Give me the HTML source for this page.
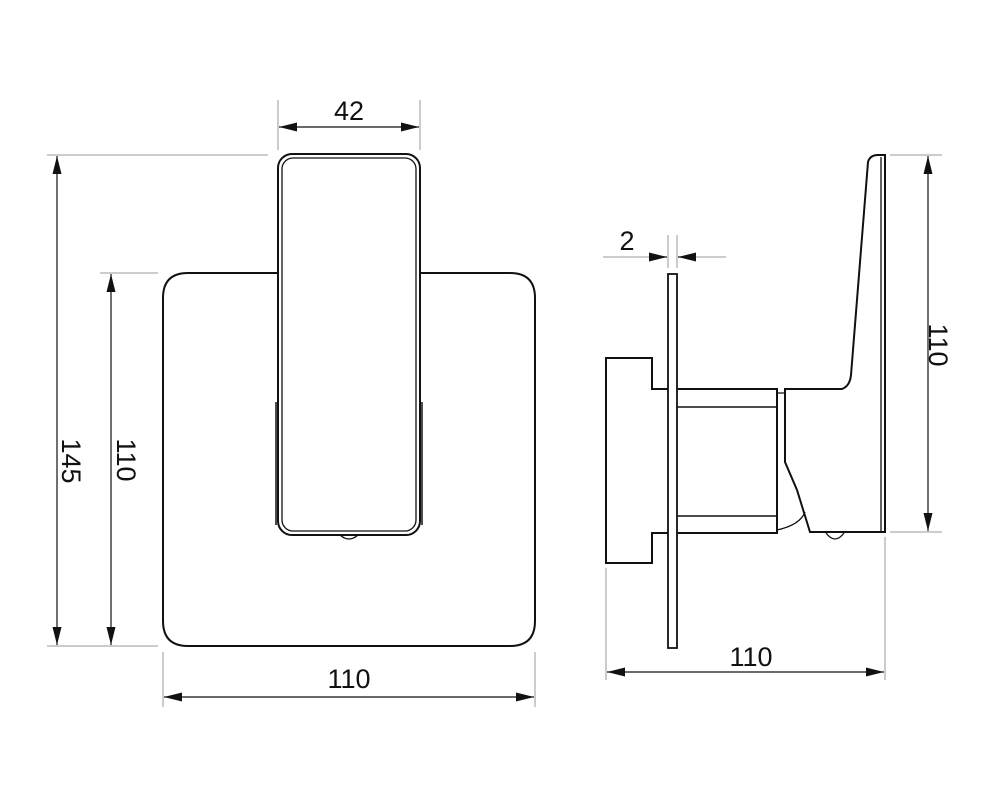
<!DOCTYPE html>
<html><head><style>body{margin:0;background:#fff}svg{display:block}</style></head><body>
<svg width="1000" height="810" viewBox="0 0 1000 810" xmlns="http://www.w3.org/2000/svg" font-family="Liberation Sans, sans-serif" font-size="27" fill="none">
<defs><marker id="a" viewBox="0 0 10 10" refX="10" refY="5" markerWidth="18" markerHeight="9" markerUnits="userSpaceOnUse" preserveAspectRatio="none" orient="auto-start-reverse"><path d="M0,0L10,5L0,10z" fill="#111"/></marker></defs>
<g stroke="#999" stroke-width="1">
<line x1="278" y1="100" x2="278" y2="150"/><line x1="420" y1="100" x2="420" y2="150"/>
<line x1="47" y1="155" x2="268" y2="155"/><line x1="47" y1="646" x2="158" y2="646"/>
<line x1="100" y1="273" x2="158" y2="273"/>
<line x1="163" y1="652" x2="163" y2="707"/><line x1="535" y1="652" x2="535" y2="707"/>
<line x1="890" y1="155" x2="942" y2="155"/><line x1="890" y1="532" x2="942" y2="532"/>
<line x1="606" y1="568" x2="606" y2="680"/><line x1="885" y1="537" x2="885" y2="680"/>
<line x1="668" y1="235" x2="668" y2="268"/><line x1="677" y1="235" x2="677" y2="268"/>
<line x1="603" y1="257" x2="650" y2="257"/><line x1="695" y1="257" x2="726" y2="257"/>
</g>
<g stroke="#111" stroke-width="1.2">
<line x1="279" y1="127" x2="419" y2="127" marker-start="url(#a)" marker-end="url(#a)"/>
<line x1="57" y1="156" x2="57" y2="645" marker-start="url(#a)" marker-end="url(#a)"/>
<line x1="111" y1="274" x2="111" y2="645" marker-start="url(#a)" marker-end="url(#a)"/>
<line x1="164" y1="697" x2="534" y2="697" marker-start="url(#a)" marker-end="url(#a)"/>
<line x1="928" y1="156" x2="928" y2="531" marker-start="url(#a)" marker-end="url(#a)"/>
<line x1="607" y1="672" x2="884" y2="672" marker-start="url(#a)" marker-end="url(#a)"/>
<line x1="650" y1="257" x2="667" y2="257" marker-end="url(#a)"/>
<line x1="695" y1="257" x2="678" y2="257" marker-end="url(#a)"/>
</g>
<g fill="#111" stroke="none">
<text x="349" y="120" text-anchor="middle">42</text>
<text x="349" y="688" text-anchor="middle">110</text>
<text x="751" y="666" text-anchor="middle">110</text>
<text x="627" y="250" text-anchor="middle">2</text>
<text transform="translate(62,461) rotate(90)" text-anchor="middle">145</text>
<text transform="translate(117,460) rotate(90)" text-anchor="middle">110</text>
<text transform="translate(929,345) rotate(90)" text-anchor="middle">110</text>
</g>
<g stroke="#111" stroke-width="2">
<path d="M278,273 H188 Q163,273 163,298 V621 Q163,646 188,646 H510 Q535,646 535,621 V298 Q535,273 510,273 H420"/>
<rect x="278" y="154" width="142" height="381" rx="14" fill="#fff"/>
<rect x="282" y="158" width="134" height="373" rx="11" stroke-width="1.3"/>
<line x1="276" y1="402" x2="276" y2="525" stroke-width="1.5"/><line x1="422" y1="402" x2="422" y2="525" stroke-width="1.5"/>
<path d="M340,535 Q349,543 358,535" stroke-width="1.3"/>
<rect x="668" y="274" width="9" height="374" stroke-width="1.8"/>
<path d="M668,389 H652 V358 H606 V563 H652 V533 H668"/>
<path d="M677,389 H777 V533 H677"/>
<line x1="677" y1="407" x2="777" y2="407" stroke-width="1.5"/><line x1="677" y1="516" x2="777" y2="516" stroke-width="1.5"/>
<path d="M777,393 H785 M777,530 Q800,525 805,512" stroke-width="1.3"/>
<path d="M785,389 H842 Q850,386 851,375 L868,162 Q870,155 878,155 H885 V532 H810 L797,490 L785,462 Z"/>
<line x1="881" y1="157" x2="881" y2="531" stroke-width="1.3"/>
<path d="M826,533 Q835,545 844,533" stroke-width="1.3"/>
</g>
</svg>
</body></html>
